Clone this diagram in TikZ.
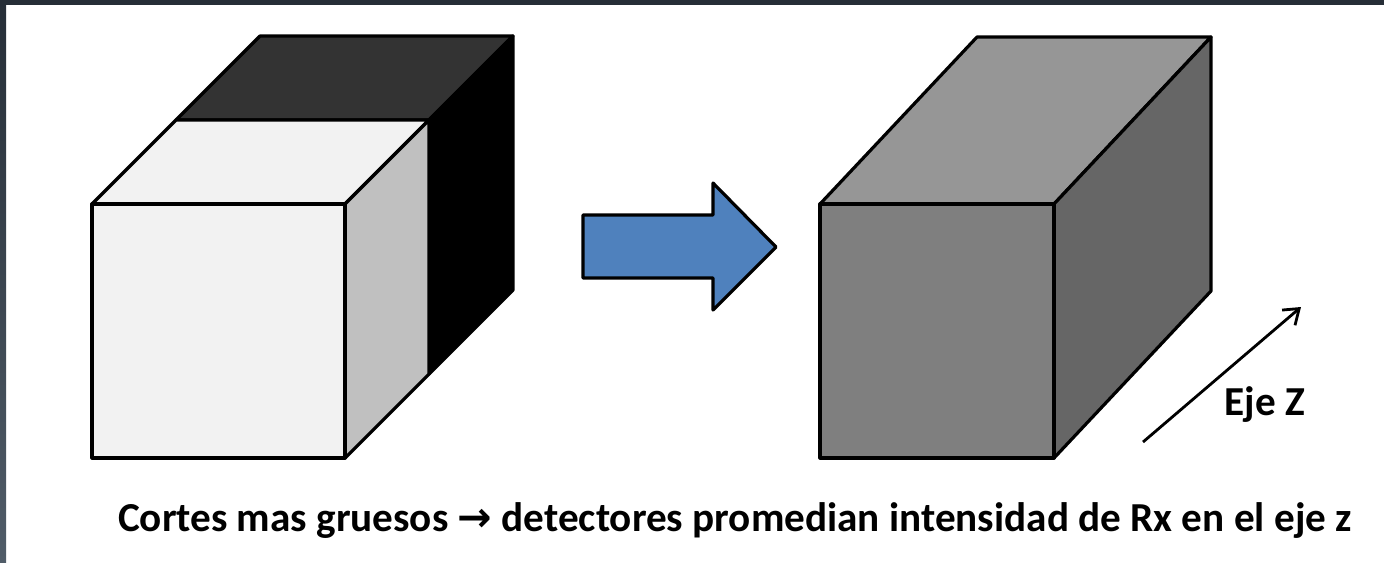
\documentclass[tikz,border=0pt]{standalone}
\usepackage{fontspec}
\setmainfont{Carlito}
\newfontfamily\arrowfont{DejaVu Sans}
\usepackage{tikz}
\usetikzlibrary{arrows.meta,positioning}

\definecolor{frame}{HTML}{262E37}
\definecolor{framelow}{HTML}{505C68}
\definecolor{lightface}{HTML}{F2F2F2}
\definecolor{lightside}{HTML}{C0C0C0}
\definecolor{darktop}{HTML}{333333}
\definecolor{boxfront}{HTML}{7F7F7F}
\definecolor{boxtop}{HTML}{969696}
\definecolor{boxside}{HTML}{666666}
\definecolor{arrowblue}{HTML}{4F81BD}

\tikzset{
  face/.style={draw=black,line width=1.6pt,line join=round},
  label/.style={font=\fontsize{20.6}{22}\selectfont\bfseries,inner sep=0pt},
}

\begin{document}
\begin{tikzpicture}[x=0.5pt,y=-0.5pt]
\useasboundingbox (0,0) rectangle (1384,562);
\fill[white] (0,0) rectangle (1384,562);

% frame
\fill[frame] (0,0) rectangle (1384,5);
\shade[top color=frame,bottom color=framelow] (0,0) rectangle (6,562);

% first cube, two slices
\coordinate (A) at (92,204);   \coordinate (B) at (345,204);
\coordinate (C) at (345,458);  \coordinate (D) at (92,458);
\coordinate (A1) at (176,120); \coordinate (B1) at (429,120);
\coordinate (C1) at (429,374);
\coordinate (A2) at (260,36);  \coordinate (B2) at (513,36);
\coordinate (C2) at (513,290);

\draw[face,fill=darktop] (A1) -- (B1) -- (B2) -- (A2) -- cycle;
\draw[face,fill=black] (B1) -- (B2) -- (C2) -- (C1) -- cycle;
\draw[face,fill=lightface] (A) -- (B) -- (B1) -- (A1) -- cycle;
\draw[face,fill=lightside] (B) -- (B1) -- (C1) -- (C) -- cycle;
\draw[face,fill=lightface] (A) -- (B) -- (C) -- (D) -- cycle;

% block arrow
\draw[face,fill=arrowblue] (583,215) -- (713,215) -- (713,183) -- (776,247)
  -- (713,310) -- (713,278) -- (583,278) -- cycle;

% second block
\coordinate (E) at (820,204);  \coordinate (F) at (1054,204);
\coordinate (G) at (1054,458); \coordinate (H) at (820,458);
\coordinate (E1) at (977,37);  \coordinate (F1) at (1211,37);
\coordinate (G1) at (1211,291);

\draw[face,fill=boxtop] (E) -- (F) -- (F1) -- (E1) -- cycle;
\draw[face,fill=boxside] (F) -- (F1) -- (G1) -- (G) -- cycle;
\draw[face,fill=boxfront] (E) -- (F) -- (G) -- (H) -- cycle;

% z axis
\coordinate (z0) at (1143,442);
\coordinate (z1) at (1301,307);
\draw[line width=1.4pt,-{Straight Barb[length=7pt,width=10pt]}] (z0) -- (z1);
\node[label,anchor=base west] (eje) at (1224,415) {Eje Z};

% caption
\node[label,anchor=base] (caption) at (735,531)
  {Cortes mas gruesos {\arrowfont\bfseries →} detectores promedian intensidad de Rx en el eje z};
\end{tikzpicture}
\end{document}
